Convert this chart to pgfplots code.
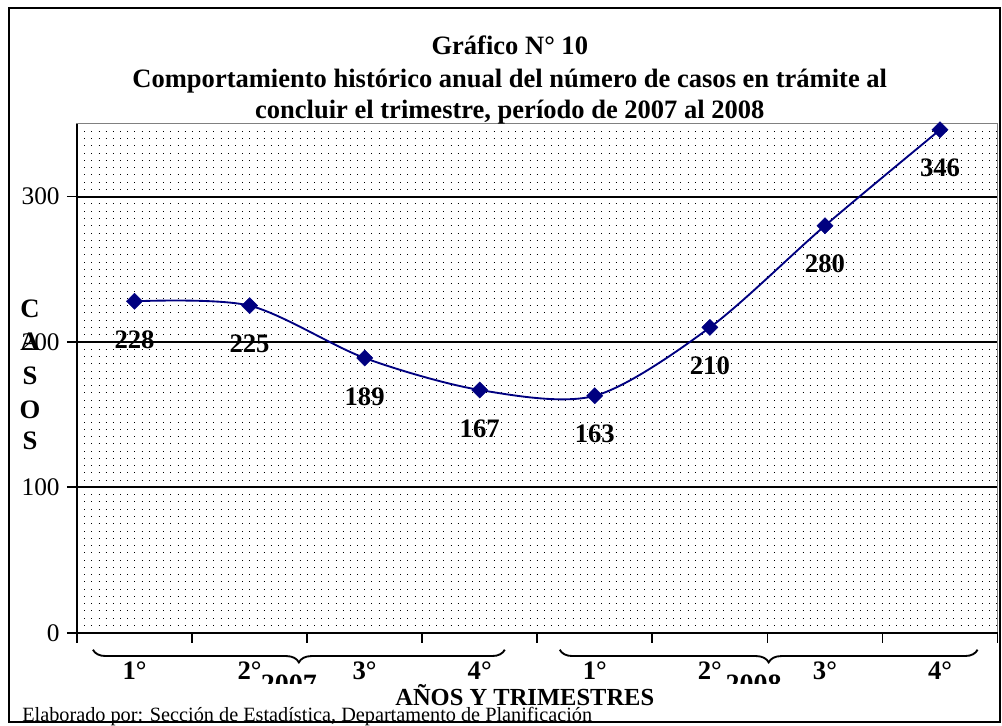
\documentclass[border=0pt]{standalone}
\usepackage{fontspec}
\setmainfont{Liberation Serif}
\usepackage{pgfplots}
\pgfplotsset{compat=1.18}
\usetikzlibrary{decorations.pathreplacing}
\definecolor{navy}{RGB}{0,0,128}
\begin{document}
\begin{tikzpicture}
\begin{scope}[x=0.75pt,y=-0.75pt]
\path[use as bounding box] (0,0) rectangle (1002,724);
\end{scope}
\begin{axis}[
  at={(57.75pt,-474.75pt)}, anchor=south west,
  width=690.75pt, height=381.75pt, scale only axis,
  xmin=0.5, xmax=8.5, ymin=0, ymax=350,
  axis line style={draw=gray, line width=0.8pt},
  xtick pos=bottom, ytick pos=left,
  ytick={0,100,200,300},
  minor ytick={5,10,...,345},
  ymajorgrids, major grid style={black, line width=1.4pt},
  yminorgrids,
  minor grid style={black, line width=0.65pt, dash pattern=on 0.65pt off 4.74pt},
  minor tick length=0pt,
  tick align=outside, major tick length=7.5pt,
  tick style={black, line width=1.3pt},
  /pgf/number format/assume math mode=true,
  yticklabel style={font=\fontsize{19}{21}\selectfont, xshift=-2pt},
  xtick={0.5,1.5,...,8.5}, xticklabels={},
  extra x ticks={1,2,3,4,5,6,7,8},
  extra x tick labels={1°,2°,3°,4°,1°,2°,3°,4°},
  extra x tick style={major tick length=0pt, xticklabel style={font=\fontsize{20}{22}\selectfont\bfseries, anchor=north, inner sep=0pt, yshift=-21.5pt}},
  clip=false,
]
\addplot[navy, line width=1.4pt, smooth, mark=square*, mark size=4.3pt,
  mark options={rotate=45, fill=navy, draw=navy, line width=0.3pt},
  nodes near coords,
  nodes near coords style={black, font=\fontsize{20}{22}\selectfont\bfseries, anchor=north, inner sep=0pt, yshift=-22pt}]
  coordinates {(1,228) (2,225) (3,189) (4,167) (5,163) (6,210) (7,280) (8,346)};
\draw[black, line width=1.5pt] (rel axis cs:0,1) -- (rel axis cs:0,0) -- (rel axis cs:1,0);
\end{axis}
\begin{scope}[x=0.75pt,y=-0.75pt]
% title
\node[font=\fontsize{19.9}{24}\selectfont\bfseries, anchor=base] at (510,55) {Gráfico N° 10};
\node[font=\fontsize{19.9}{24}\selectfont\bfseries, anchor=base] at (510,88) {Comportamiento histórico anual del número de casos en trámite al};
\node[font=\fontsize{19.9}{24}\selectfont\bfseries, anchor=base] at (510,119) {concluir el trimestre, período de 2007 al 2008};
% y label
\foreach \l/\yy in {C/309, A/342, S/376, O/410, S/441}
  \node[font=\fontsize{20}{22}\selectfont\bfseries] at (30,\yy) {\l};
% braces
\draw[line width=1.4pt, decorate, decoration={brace, mirror, amplitude=9.5pt}] (93,650) -- (505,650);
\draw[line width=1.4pt, decorate, decoration={brace, mirror, amplitude=9.5pt}] (560,650) -- (978,650);
\begin{scope}
\clip (0,0) rectangle (1002,684);
\node[font=\fontsize{21}{24}\selectfont\bfseries, anchor=north, inner sep=0pt] at (289,675) {2007};
\node[font=\fontsize{21}{24}\selectfont\bfseries, anchor=north, inner sep=0pt] at (754,675) {2008};
\end{scope}
% axis label
\node[font=\fontsize{18.4}{21}\selectfont\bfseries, anchor=base] at (525,706) {AÑOS Y TRIMESTRES};
% footer
\node[font=\fontsize{15.2}{17}\selectfont, anchor=base west, inner sep=0pt] at (22,722) {Elaborado por: Sección de Estadística, Departamento de Planificación};
% frame
\draw[black, line width=1.5pt] (9,8) rectangle (1000,722);
\end{scope}
\end{tikzpicture}
\end{document}
